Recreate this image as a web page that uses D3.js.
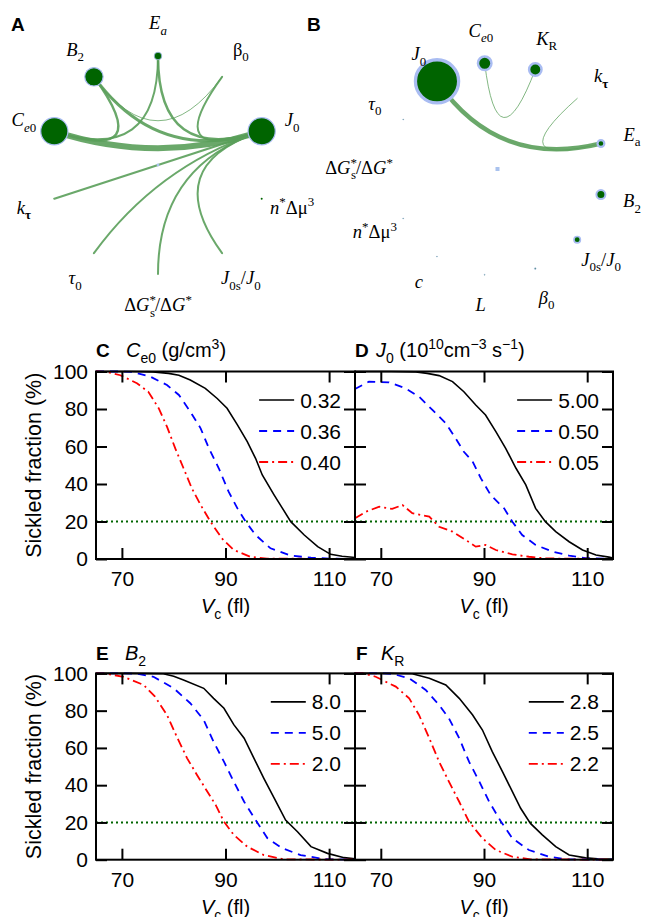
<!DOCTYPE html>
<html>
<head>
<meta charset="utf-8">
<script src="https://cdn.jsdelivr.net/npm/d3@7"></script>
<style>
body { margin: 0; background: #fff; }
svg text { font-family: "Liberation Sans", Arial, sans-serif; }
.net text { font-family: "Liberation Serif", "Times New Roman", serif; font-size: 18.5px; }
</style>
</head>
<body>
<svg id="fig" width="649" height="917"></svg>
<script>
// ---------------- network A ----------------
var namesA = ["Ea", "beta0", "J0", "nmu", "J0s", "dG", "tau0", "ktau", "Ce0", "B2"];
var nodeRA = [3.8, 0, 13.6, 1, 0, 0, 0, 0, 13.6, 9.2];
var ringA = [0.8, 0, 1.2, 0, 0, 0, 0, 0, 1.2, 1.2];
var edgesA = [
	["Ce0", "J0", 6], ["B2", "J0", 3], ["B2", "Ce0", 2.5], ["Ea", "J0", 2.5],
	["Ea", "Ce0", 2], ["beta0", "J0", 2], ["beta0", "B2", 1], ["J0", "ktau", 2.2],
	["J0", "tau0", 2], ["J0", "dG", 2], ["J0", "J0s", 2]
];
var labelsA = [
	[["E", "i"], ["a", "i_"]],
	[["β", ""], ["0", "_"]],
	[["J", "i"], ["0", "_"]],
	[["n", "i"], ["*", "^"], ["Δμ", ""], ["3", "^"]],
	[["J", "i"], ["0s", "_"], ["/", ""], ["J", "i"], ["0", "_"]],
	[["Δ", ""], ["G", "i"], ["*", "^"], ["s", "_", -6], ["/Δ", ""], ["G", "i"], ["*", "^"]],
	[["τ", "i"], ["0", "_"]],
	[["k", "i"], ["τ", "b_"]],
	[["C", "i"], ["e", "i_"], ["0", "_"]],
	[["B", "i"], ["2", "_"]]
];

// ---------------- network B ----------------
var namesB = ["Ce0", "KR", "ktau", "Ea", "B2", "J0s", "beta0", "L", "c", "nmu", "dG", "tau0", "J0"];
var nodeRB = [6.75, 6.2, 0, 3.4, 4.5, 3.2, 0.8, 0.5, 0.5, 0.5, 0, 0.5, 21.6];
var ringB = [2.5, 2.5, 0, 2.2, 2, 1.6, 0.8, 0.6, 0.6, 0.6, 0, 0.6, 3.3];
var edgesB = [["J0", "Ea", 4.5], ["Ce0", "KR", 1], ["ktau", "Ea", 1]];
var labelsB = [
	[["C", "i"], ["e", "i_"], ["0", "_"]],
	[["K", "i"], ["R", "_"]],
	[["k", "i"], ["τ", "b_"]],
	[["E", "i"], ["a", "_"]],
	[["B", "i"], ["2", "_"]],
	[["J", "i"], ["0s", "_"], ["/", ""], ["J", "i"], ["0", "_"]],
	[["β", "i"], ["0", "_"]],
	[["L", "i"]],
	[["c", "i"]],
	[["n", "i"], ["*", "^"], ["Δμ", ""], ["3", "^"]],
	[["Δ", ""], ["G", "i"], ["*", "^"], ["s", "_", -6], ["/Δ", ""], ["G", "i"], ["*", "^"]],
	[["τ", "i"], ["0", "_"]],
	[["J", "i"], ["0", "_"]]
];

// ---------------- sickled fraction curves ----------------
var vcTicks = [70, 90, 110];
var fracTicks = [0, 20, 40, 60, 80, 100];

var legendC = ["0.32", "0.36", "0.40"];
var ce0_032 = [[65,100],[72,100],[76,99.8],[79,99],[81,98],[83.2,95.5],[86.1,91],[88.4,85.6],[90.3,80.4],[92.3,71.5],[94.2,62.6],[95.8,53.7],[97.1,44.8],[99.4,34.1],[101,27],[102.6,19.9],[105.2,12.8],[107.8,6.6],[110.3,2.5],[112.5,1.5],[115,0.8]];
var ce0_036 = [[65,100],[70,100],[72,99.8],[75.5,97.2],[78.7,92.8],[81,87.5],[83.2,78.6],[85.2,69.7],[86.8,59],[88.7,48.4],[90.6,35.9],[92.3,27],[93.9,19.9],[95.8,12.8],[98.7,5.7],[102.6,1.8],[106.5,0.7],[110,0.2],[115,0]];
var ce0_040 = [[65,100],[67,99.8],[69.7,98],[72.9,93.7],[75.1,89.2],[77.1,80.4],[78.7,70.6],[80.3,59],[81.9,48.4],[83.5,37.7],[85.2,28.8],[87.1,19.9],[89.3,11],[91.6,4.8],[94.8,1.2],[98,0.2],[115,0]];

var legendD = ["5.00", "0.50", "0.05"];
var j0_500 = [[65,100],[72,100],[76.8,99.8],[79,99],[81.3,97.8],[83.9,94.6],[86.1,89.2],[88.4,82.1],[90.3,76.8],[92.3,67.9],[94.2,59],[96.2,48.4],[98.1,39.5],[100,27],[101.9,19.9],[103.9,14.6],[106.5,9.2],[109.1,4.8],[111.7,2.1],[114.2,1],[115,0.5]];
var j0_050 = [[65,90.7],[67.7,94.6],[71.6,94.2],[74.8,91],[77.4,86.6],[80,79.5],[82.6,72.4],[84.5,64.4],[86.1,57.2],[87.8,51.9],[89.4,43],[91.3,34.1],[93.9,27],[95.5,19.9],[97.4,12.8],[100,7.5],[103.3,3.9],[106.5,1.8],[109.7,0.5],[115,0]];
var j0_005 = [[65,21.7],[67.1,25.2],[69.7,27.9],[72.2,26.7],[74.2,28.8],[76.1,24.4],[79.4,22.6],[81.3,17.2],[83.9,14.6],[86.5,10.1],[88.4,6.6],[90.3,7.5],[92.3,4.8],[95.5,2.5],[98.7,1.2],[102,0.3],[115,0]];

var legendE = ["8.0", "5.0", "2.0"];
var b2_80 = [[65,100],[72,100],[78,99.8],[80,98.5],[81.9,96.5],[85.8,92],[87.7,86.6],[89.7,81.3],[91.6,72.5],[93.6,65.2],[95.5,54.4],[97.4,43.7],[99.4,33],[101.6,21.3],[103.9,15],[106.5,7],[109.7,3.4],[112.9,1.1],[115,0.5]];
var b2_50 = [[65,100],[70,100],[72.9,99.8],[76.1,98.2],[80,92],[83.2,84],[85.8,75],[87.7,63.3],[89.7,52.6],[91.6,41.9],[93.6,31.1],[95.8,21.3],[98.1,11.5],[101,6.1],[104.5,2.5],[109,0.3],[115,0]];
var b2_20 = [[65,100],[67,99.8],[70.3,98.2],[74.2,93.8],[76.4,87.5],[78.7,77.7],[80.6,66],[82.6,54.4],[84.5,45.5],[86.1,38.3],[88.1,29.4],[89.7,20.4],[91.6,13.3],[94.2,7],[97.4,2.5],[101.3,0.2],[115,0]];

var legendF = ["2.8", "2.5", "2.2"];
var kr_28 = [[65,100],[72,100],[76.1,99.8],[79.4,97.4],[82.6,93.8],[85.2,86.6],[87.8,77.7],[89.7,69.6],[91.6,58],[93.6,47.2],[95.5,36.5],[97.1,27.6],[99,19.5],[101.3,13.3],[103.9,7],[106.5,2.5],[109.7,1],[112,0.5],[115,0.3]];
var kr_25 = [[65,100],[70,100],[72.2,99.8],[75.5,97.4],[78.7,91.1],[81.3,83],[83.2,75.9],[85.2,65.2],[87.1,52.6],[89.1,41.9],[91,31.1],[93.3,20.4],[95.5,11.5],[98.7,5.2],[102.6,1.6],[106,0.2],[115,0]];
var kr_22 = [[65,100],[66.5,100],[69,98.2],[72.9,92.9],[75.5,86.6],[77.4,77.7],[79.4,65.2],[81.3,52.6],[83.2,41.9],[85.2,31.1],[87.1,20.4],[89.7,11.5],[92.3,5.2],[95.5,1.6],[99,0.2],[115,0]];

var titleC = [["C", "i"], ["e0", "_"], [" (g/cm", ""], ["3", "^"], [")", ""]];
var titleD = [["J", "i"], ["0", "_"], [" (10", ""], ["10", "^"], ["cm", ""], ["−3", "^"], [" s", ""], ["−1", "^"], [")", ""]];
var titleE = [["B", "i"], ["2", "_"]];
var titleF = [["K", "i"], ["R", "_"]];
var xLabel = [["V", "i"], ["c", "_"], [" (fl)", ""]];

var svg = d3.select("#fig");

// rich text with sub/superscripts made from tspans
function rich(sel, segs, base) {
	var shift = 0;
	segs.forEach(function(s) {
		var f = s[1];
		var target = f.indexOf("_") >= 0 ? base * 0.3 : f.indexOf("^") >= 0 ? -base * 0.4 : 0;
		var ts = sel.append("tspan").text(s[0]).attr("dy", target - shift);
		if (target !== 0) ts.style("font-size", (base * 0.7) + "px");
		if (f.indexOf("i") >= 0) ts.style("font-style", "italic");
		if (f.indexOf("b") >= 0) ts.style("font-weight", "bold");
		if (s[2]) ts.attr("dx", s[2]);
		shift = target;
	});
}

function drawNetwork(cx, cy, r, startDeg, names, nodeR, rings, edges, labels, centerMark) {
	var g = svg.append("g").attr("class", "net");
	var angle = d3.scaleLinear().domain([0, names.length]).range([startDeg, startDeg + 360]);
	var pos = {};
	names.forEach(function(n, i) {
		var a = angle(i) * Math.PI / 180;
		pos[n] = [cx + r * Math.cos(a), cy + r * Math.sin(a)];
	});

	// edges bend through the centre of the ring
	edges.forEach(function(e) {
		var p = d3.path();
		p.moveTo(pos[e[0]][0], pos[e[0]][1]);
		p.quadraticCurveTo(cx, cy, pos[e[1]][0], pos[e[1]][1]);
		g.append("path")
			.attr("d", p.toString())
			.attr("fill", "none")
			.attr("stroke", "#5a9f5a")
			.attr("stroke-opacity", e[2] < 1.5 ? 0.75 : 0.9)
			.attr("stroke-width", e[2])
			.attr("stroke-linecap", "round");
	});

	if (centerMark === "dot") {
		g.append("circle").attr("cx", cx).attr("cy", cy).attr("r", 1.4).attr("fill", "#a9c2ee");
	} else {
		g.append("rect").attr("x", cx - 2).attr("y", cy - 2).attr("width", 4).attr("height", 4).attr("fill", "#a9c2ee");
	}

	names.forEach(function(n, i) {
		if (nodeR[i] <= 0) return;
		g.append("circle")
			.attr("cx", pos[n][0]).attr("cy", pos[n][1])
			.attr("r", nodeR[i])
			.attr("fill", "#006400")
			.attr("stroke", "#a9bcf2")
			.attr("stroke-width", rings[i]);
	});

	names.forEach(function(n, i) {
		var a = angle(i) * Math.PI / 180;
		var t = g.append("text")
			.attr("x", cx + (r + 32) * Math.cos(a))
			.attr("y", cy + (r + 32) * Math.sin(a) + 5)
			.attr("text-anchor", "middle");
		rich(t, labels[i], 18.5);
	});
}

drawNetwork(158, 165, 109, -90, namesA, nodeRA, ringA, edgesA, labelsA, "dot");
drawNetwork(497.5, 169, 106.5, -96.9, namesB, nodeRB, ringB, edgesB, labelsB, "square");

svg.append("text").attr("x", 11).attr("y", 31).style("font-weight", "bold").style("font-size", "19px").text("A");
svg.append("text").attr("x", 307).attr("y", 31).style("font-weight", "bold").style("font-size", "19px").text("B");

// ---------------- plot panels ----------------
var styles = [
	{ color: "#000", width: 1.6, dash: null },
	{ color: "#0000ff", width: 1.8, dash: "8,6" },
	{ color: "#ff0000", width: 1.8, dash: "9,4,2,4" }
];

var panels = [
	{ letter: "C", title: titleC, lx: 96, tx: 126, ty: 357, x0: 96, x1: 355, y0: 371.5, y1: 559, series: [ce0_032, ce0_036, ce0_040], keys: legendC, yLab: true },
	{ letter: "D", title: titleD, lx: 355, tx: 376, ty: 357, x0: 355, x1: 613, y0: 371.5, y1: 559, series: [j0_500, j0_050, j0_005], keys: legendD, yLab: false },
	{ letter: "E", title: titleE, lx: 96, tx: 125, ty: 660, x0: 96, x1: 355, y0: 673.4, y1: 859.7, series: [b2_80, b2_50, b2_20], keys: legendE, yLab: true },
	{ letter: "F", title: titleF, lx: 356, tx: 381, ty: 660, x0: 355, x1: 613, y0: 673.4, y1: 859.7, series: [kr_28, kr_25, kr_22], keys: legendF, yLab: false }
];

function styleAxis(a) {
	a.select(".domain").remove();
	a.attr("font-family", null).attr("font-size", null);
	a.selectAll("line").attr("stroke", "#000").attr("stroke-width", 2);
	a.selectAll("text").style("font-size", "21px").attr("fill", "#000");
}

panels.forEach(function(p) {
	var x = d3.scaleLinear().domain([65, 115]).range([p.x0, p.x1]);
	var y = d3.scaleLinear().domain([0, 100]).range([p.y1, p.y0]);
	var g = svg.append("g");

	// 20% threshold
	g.append("line")
		.attr("x1", x(65)).attr("x2", x(115))
		.attr("y1", y(20)).attr("y2", y(20))
		.attr("stroke", "#006400").attr("stroke-width", 2)
		.attr("stroke-dasharray", "2,3");

	var line = d3.line().x(d => x(d[0])).y(d => y(d[1]));
	p.series.forEach(function(s, i) {
		g.append("path").datum(s)
			.attr("d", line)
			.attr("fill", "none")
			.attr("stroke", styles[i].color)
			.attr("stroke-width", styles[i].width)
			.attr("stroke-dasharray", styles[i].dash);
	});

	// legend, text right aligned
	p.keys.forEach(function(k, i) {
		var ty = p.y0 + 36 + 31 * i;
		var t = g.append("text")
			.attr("x", p.x1 - 14).attr("y", ty)
			.attr("text-anchor", "end")
			.style("font-size", "21px")
			.text(k);
		var start = p.x1 - 14 - t.node().getComputedTextLength();
		g.append("line")
			.attr("x1", start - 41).attr("x2", start - 6)
			.attr("y1", ty - 7.5).attr("y2", ty - 7.5)
			.attr("stroke", styles[i].color)
			.attr("stroke-width", styles[i].width)
			.attr("stroke-dasharray", styles[i].dash);
	});

	// inward ticks on all four sides
	var bottom = g.append("g").attr("transform", `translate(0,${p.y1})`)
		.call(d3.axisBottom(x).tickValues(vcTicks).tickSize(-11).tickPadding(12.5));
	styleAxis(bottom);
	var top = g.append("g").attr("transform", `translate(0,${p.y0})`)
		.call(d3.axisTop(x).tickValues(vcTicks).tickSize(-11).tickFormat(""));
	styleAxis(top);
	var left = g.append("g").attr("transform", `translate(${p.x0},0)`)
		.call(d3.axisLeft(y).tickValues(fracTicks).tickSize(-11).tickPadding(8)
			.tickFormat(p.yLab ? d3.format("d") : ""));
	styleAxis(left);
	var right = g.append("g").attr("transform", `translate(${p.x1},0)`)
		.call(d3.axisRight(y).tickValues(fracTicks).tickSize(-11).tickFormat(""));
	styleAxis(right);

	g.append("rect")
		.attr("x", p.x0).attr("y", p.y0)
		.attr("width", p.x1 - p.x0).attr("height", p.y1 - p.y0)
		.attr("fill", "none").attr("stroke", "#000").attr("stroke-width", 2);

	// titles
	svg.append("text").attr("x", p.lx).attr("y", p.ty)
		.style("font-size", "19px").style("font-weight", "bold").text(p.letter);
	var tt = svg.append("text").attr("x", p.tx).attr("y", p.ty).style("font-size", "20px");
	rich(tt, p.title, 20);

	// x label
	var xl = svg.append("text").attr("x", x(90)).attr("y", p.y1 + 54)
		.attr("text-anchor", "middle").style("font-size", "20px");
	rich(xl, xLabel, 20);

	if (p.yLab) {
		svg.append("text")
			.attr("transform", `translate(41,${(p.y0 + p.y1) / 2}) rotate(-90)`)
			.attr("text-anchor", "middle")
			.style("font-size", "21.5px")
			.text("Sickled fraction (%)");
	}
});
</script>
</body>
</html>
